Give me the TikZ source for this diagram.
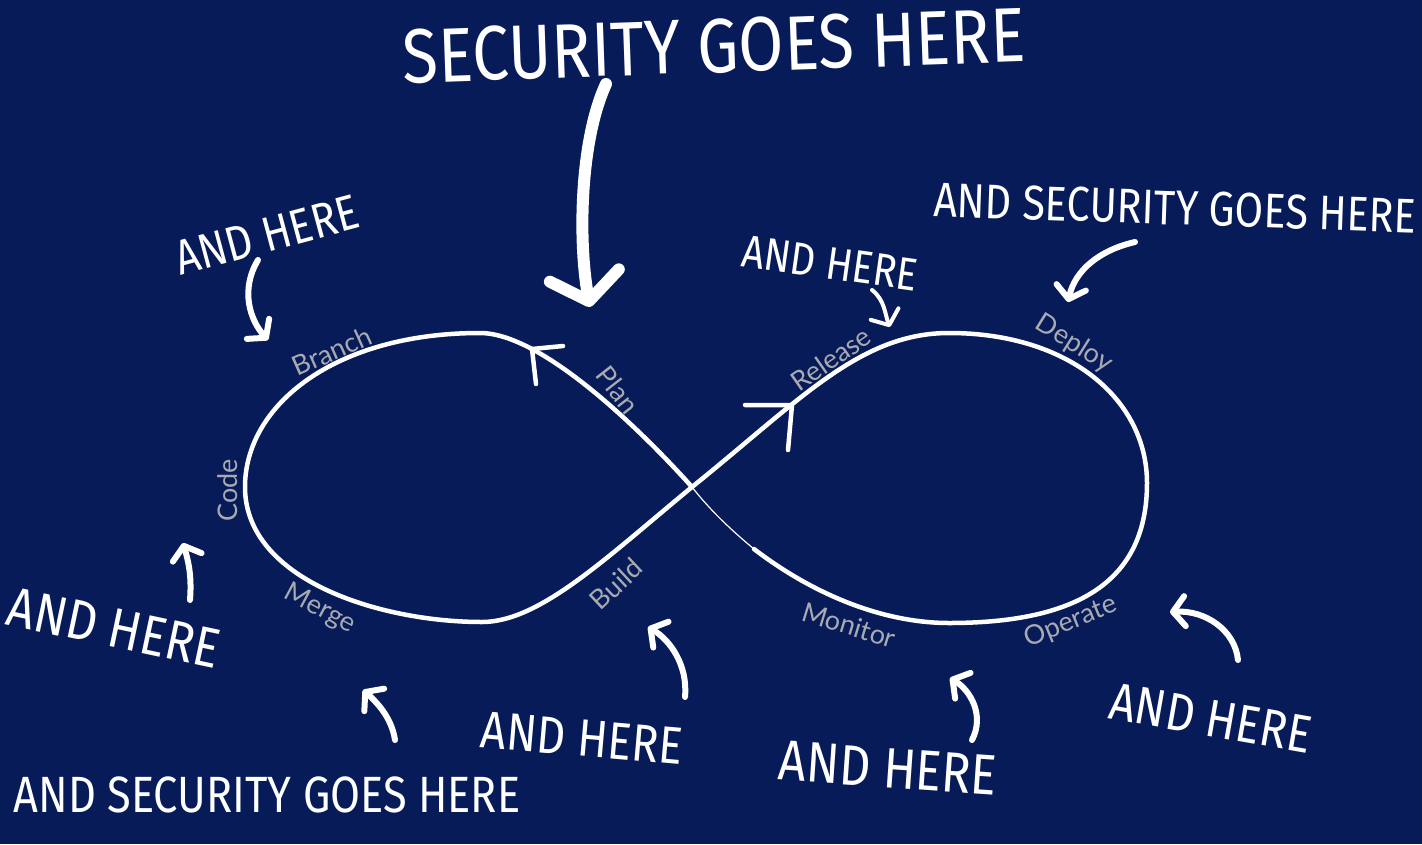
\documentclass[tikz,border=0pt]{standalone}
\usepackage{fontspec}
\setmainfont{Lato}
\newfontfamily\handfont[FakeStretch=0.85]{Fira Sans}
\usetikzlibrary{arrows.meta}

\definecolor{boardblue}{RGB}{6,27,88}
\definecolor{stagegray}{RGB}{168,170,178}

\tikzset{
  loopline/.style={white, line width=4.5pt, line cap=round, line join=round},
  stage/.style={text=stagegray, font=\fontsize{27}{27}\selectfont, inner sep=0pt},
  note/.style={text=white, font=\handfont\fontsize{#1}{#1}\selectfont, inner sep=0pt},
  hand/.style={white, line width=6pt, line cap=round,
    -{Straight Barb[length=12pt,width=30pt,round]}},
}

\begin{document}
\begin{tikzpicture}[x=1pt,y=-1pt]
\fill[boardblue] (0,0) rectangle (1422,844);
\useasboundingbox (0,0) rectangle (1422,844);

% the loop
\coordinate (cross) at (692,487);
\coordinate (fade) at (754,549);
\draw[loopline] (cross) .. controls (650,440) and (545,333) .. (480,333)
  .. controls (335,333) and (245,405) .. (245,487)
  .. controls (245,580) and (380,622) .. (482,622)
  .. controls (540,622) and (607,557) .. (cross)
  .. controls (800,400) and (860,333) .. (949,333)
  .. controls (1070,333) and (1147,400) .. (1147,483)
  .. controls (1147,580) and (1080,623) .. (949,623)
  .. controls (880,623) and (810,592) .. (fade);
\draw[white, line width=1.2pt] (fade) .. controls (731,530) and (709,509) .. (cross);

% open heads on the loop
\coordinate (planTip) at (532,349);
\coordinate (releaseTip) at (792,405);
\draw[loopline] (563,346) -- (planTip) -- (536,384);
\draw[loopline] (745,405) -- (releaseTip) -- (788,450);

% stages
\node[stage, rotate=90] (code) at (228,490) {Code};
\node[stage, rotate=24] (branch) at (332,351) {Branch};
\node[stage, rotate=-52] (plan) at (618,390) {Plan};
\node[stage, rotate=-28] (merge) at (320,609) {Merge};
\node[stage, rotate=43] (build) at (616,584) {Build};
\node[stage, rotate=35] (release) at (831,359) {Release};
\node[stage, rotate=-32] (deploy) at (1074,344) {Deploy};
\node[stage, rotate=22] (operate) at (1071,622) {Operate};
\node[stage, rotate=-17] (monitor) at (849,625) {Monitor};

% notes
\node[note=77, rotate=2] (main) at (714,46) {SECURITY GOES HERE};
\node[note=49, rotate=15] (hereBranch) at (267,235) {AND HERE};
\node[note=46, rotate=-8] (hereRelease) at (830,263) {AND HERE};
\node[note=48.6, rotate=-2] (deployNote) at (1175,208) {AND SECURITY GOES HERE};
\node[note=51] (mergeNote) at (267,795) {AND SECURITY GOES HERE};
\node[note=56, rotate=-12] (hereCode) at (114,628) {AND HERE};
\node[note=52.5, rotate=-5] (hereBuild) at (582,738) {AND HERE};
\node[note=57, rotate=-4] (hereMonitor) at (888,768) {AND HERE};
\node[note=53, rotate=-10] (hereOperate) at (1211,718) {AND HERE};

% hand arrows
\coordinate (mainTip) at (590,307);
\draw[white, line width=12pt, line cap=round,
  -{Straight Barb[length=26pt,width=70pt,round]}]
  (606,84) .. controls (580,140) and (578,240) .. (mainTip);
\coordinate (branchTip) at (268,340);
\draw[hand] (258,260) .. controls (240,290) and (250,320) .. (branchTip);
\coordinate (releaseMark) at (890,327);
\draw[hand, line width=4pt] (872,290) .. controls (885,300) and (885,315) .. (releaseMark);
\coordinate (deployTip) at (1068,302);
\draw[hand] (1135,242) .. controls (1100,250) and (1075,270) .. (deployTip);
\coordinate (codeTip) at (183,543);
\draw[hand] (190,600) .. controls (192,575) and (188,560) .. (codeTip);
\coordinate (mergeTip) at (363,690);
\draw[hand] (395,740) .. controls (392,720) and (380,705) .. (mergeTip);
\coordinate (buildTip) at (648,627);
\draw[hand] (685,697) .. controls (688,665) and (670,640) .. (buildTip);
\coordinate (monitorTip) at (950,678);
\draw[hand] (972,740) .. controls (985,715) and (970,690) .. (monitorTip);
\coordinate (operateTip) at (1170,612);
\draw[hand] (1238,660) .. controls (1235,630) and (1205,610) .. (operateTip);
\end{tikzpicture}
\end{document}
